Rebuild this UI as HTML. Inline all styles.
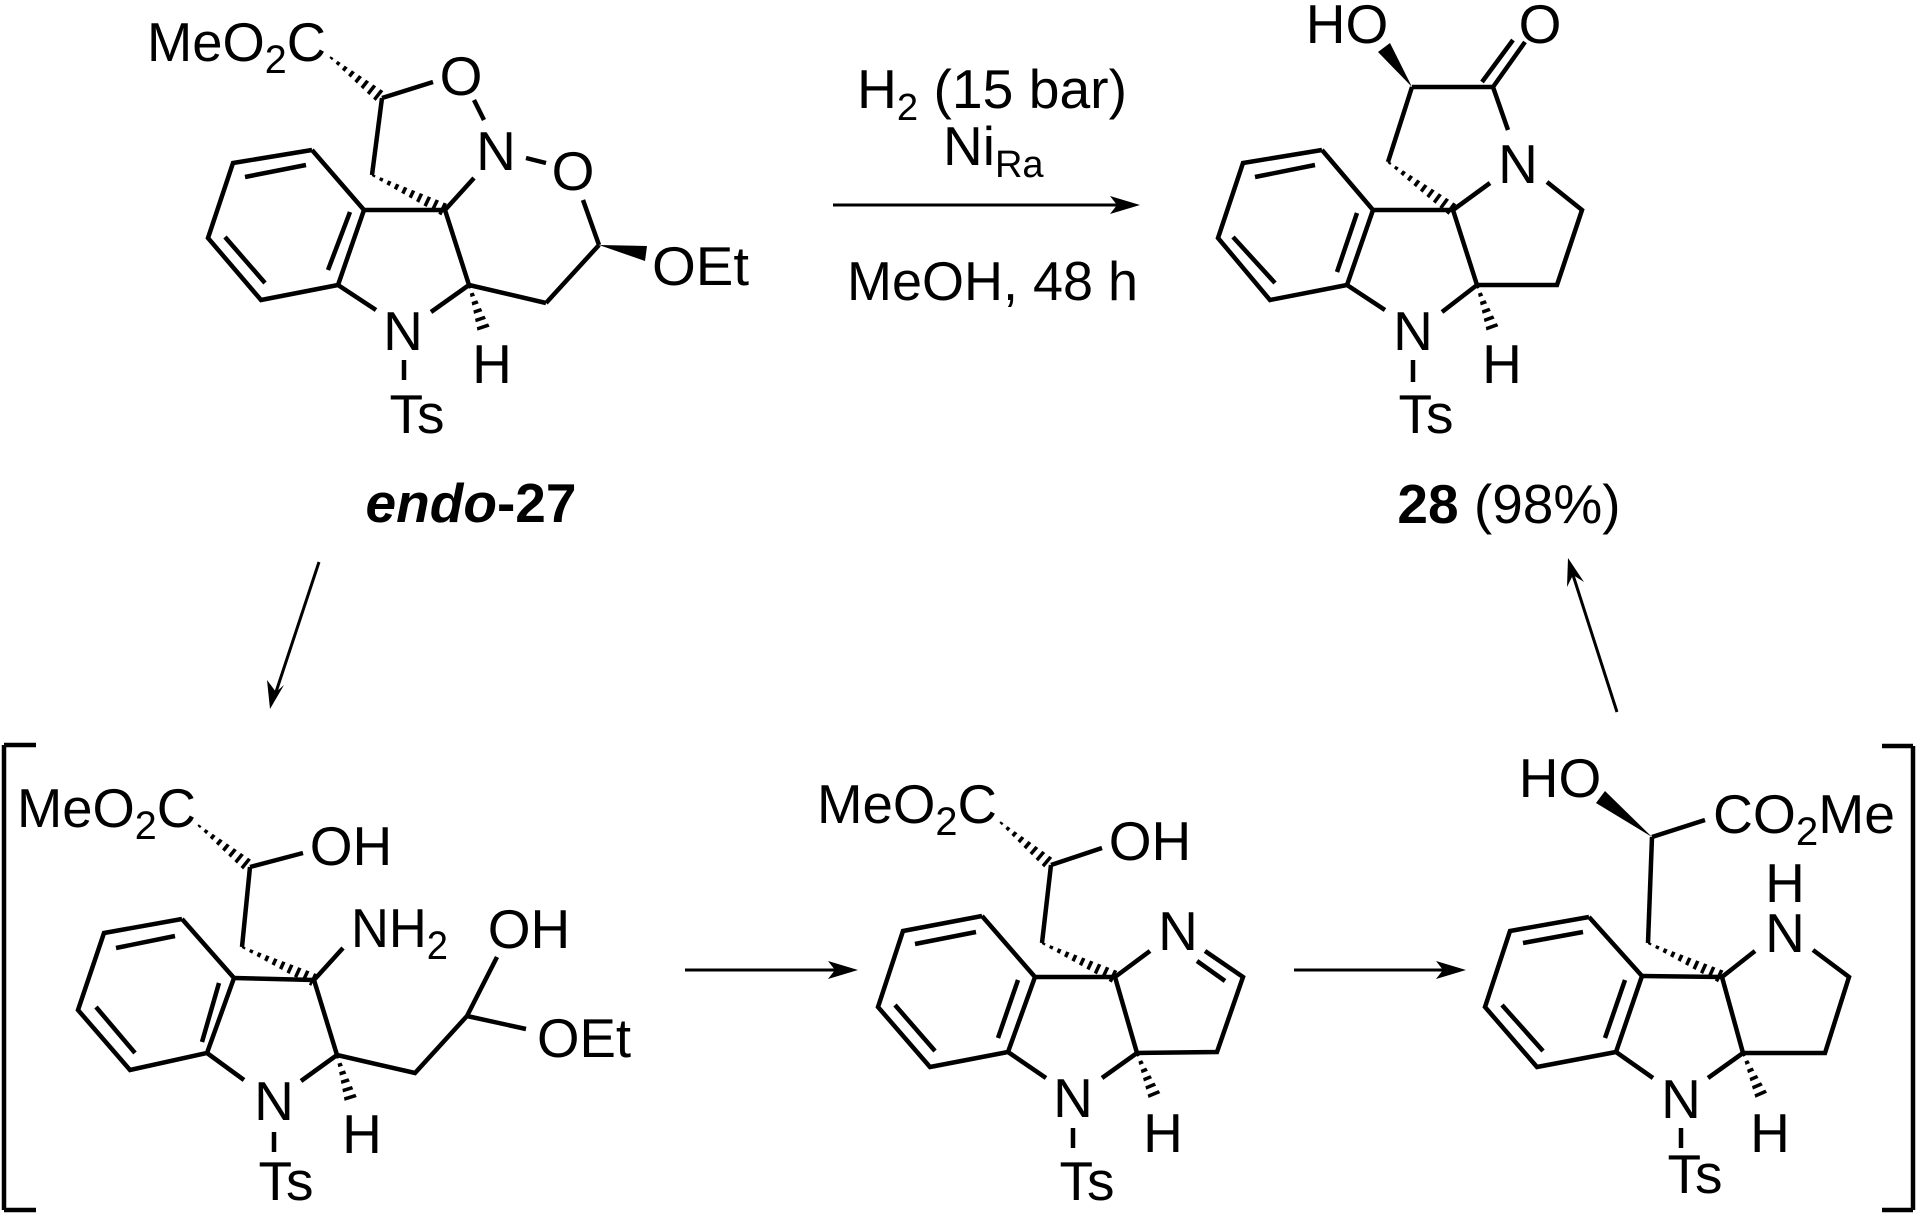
<!DOCTYPE html>
<html><head><meta charset="utf-8"><style>
html,body{margin:0;padding:0;background:#fff;}
svg{display:block;}
text{font-family:"Liberation Sans",Arial,sans-serif;font-size:55px;fill:#000;}
</style></head><body>
<svg xmlns="http://www.w3.org/2000/svg" width="1920" height="1215" viewBox="0 0 1920 1215">
<defs>
<mask id="hm" maskUnits="userSpaceOnUse" x="0" y="0" width="1920" height="1215">
<g stroke="#fff" stroke-width="20" stroke-dasharray="3.5 5" fill="none">
<line x1="330" y1="57" x2="382" y2="98"/>
<line x1="372" y1="175" x2="445" y2="210"/>
<line x1="469" y1="285" x2="484" y2="330"/>
<line x1="1388" y1="162" x2="1453" y2="210"/>
<line x1="1477" y1="285" x2="1493" y2="330"/>
<line x1="198" y1="825" x2="250" y2="867"/>
<line x1="242" y1="947" x2="314" y2="980"/>
<line x1="337" y1="1055" x2="351" y2="1100"/>
<line x1="1000" y1="822" x2="1051" y2="865"/>
<line x1="1042" y1="943" x2="1115" y2="977"/>
<line x1="1137" y1="1053" x2="1155" y2="1097"/>
<line x1="1648" y1="943" x2="1722" y2="977"/>
<line x1="1743" y1="1053" x2="1762" y2="1097"/>
</g>
</mask>
</defs>
<g stroke="#000" stroke-width="4.5" fill="none" stroke-linecap="butt" stroke-linejoin="miter">
<!-- Structure endo-27 -->
<polyline points="312,150 233,163 208,238 261,300 338,285 364,210 312,150"/>
<line x1="245" y1="177" x2="306" y2="165"/><line x1="225" y1="237" x2="265" y2="283"/><line x1="328" y1="270" x2="350" y2="212"/>
<line x1="364" y1="210" x2="445" y2="210"/>
<line x1="338" y1="285" x2="376" y2="310"/><line x1="431" y1="312" x2="469" y2="285"/>
<line x1="445" y1="210" x2="469" y2="285"/><line x1="445" y1="210" x2="474" y2="178"/>
<line x1="372" y1="175" x2="382" y2="98"/><line x1="382" y1="98" x2="433" y2="82"/>
<line x1="474" y1="100" x2="484" y2="120"/><line x1="526" y1="158" x2="546" y2="163"/>
<line x1="583" y1="200" x2="599" y2="245"/><line x1="599" y1="245" x2="546" y2="303"/><line x1="546" y1="303" x2="469" y2="285"/>
<line x1="404" y1="360" x2="404" y2="380"/>
<!-- 28 -->
<polyline points="1322,150 1243,163 1218,238 1270,300 1347,285 1373,210 1322,150"/>
<line x1="1255" y1="177" x2="1315" y2="165"/><line x1="1233" y1="237" x2="1275" y2="283"/><line x1="1337" y1="272" x2="1357" y2="213"/>
<line x1="1373" y1="210" x2="1453" y2="210"/>
<line x1="1347" y1="285" x2="1385" y2="310"/><line x1="1442" y1="312" x2="1477" y2="285"/>
<line x1="1453" y1="210" x2="1477" y2="285"/><polyline points="1477,285 1557,285 1582,210 1547,182"/>
<line x1="1453" y1="210" x2="1490" y2="183"/><line x1="1508" y1="130" x2="1493" y2="87"/>
<line x1="1493" y1="87" x2="1525" y2="42"/><line x1="1482" y1="82" x2="1513" y2="40"/>
<line x1="1493" y1="87" x2="1412" y2="87"/><line x1="1412" y1="87" x2="1388" y2="162"/>
<line x1="1413" y1="360" x2="1413" y2="382"/>
<!-- A -->
<polyline points="4,745 4,1210"/><line x1="4" y1="745" x2="36" y2="745"/><line x1="4" y1="1210" x2="36" y2="1210"/>
<polyline points="182,919 104,933 78,1010 130,1070 207,1053 234,978 182,919"/>
<line x1="116" y1="948" x2="175" y2="936"/><line x1="96" y1="1007" x2="135" y2="1053"/><line x1="202" y1="1042" x2="219" y2="983"/>
<line x1="234" y1="978" x2="314" y2="980"/>
<line x1="207" y1="1053" x2="244" y2="1080"/><line x1="301" y1="1081" x2="337" y2="1055"/>
<line x1="314" y1="980" x2="337" y2="1055"/><line x1="314" y1="980" x2="343" y2="948"/>
<line x1="242" y1="947" x2="250" y2="867"/><line x1="250" y1="867" x2="303" y2="853"/>
<polyline points="337,1055 415,1073 467,1016 497,957"/><line x1="467" y1="1016" x2="526" y2="1029"/>
<line x1="274" y1="1132" x2="274" y2="1152"/>
<!-- B -->
<polyline points="982,916 903,931 878,1007 930,1067 1008,1052 1035,977 982,916"/>
<line x1="915" y1="944" x2="976" y2="932"/><line x1="895" y1="1005" x2="935" y2="1051"/><line x1="998" y1="1038" x2="1018" y2="980"/>
<line x1="1035" y1="977" x2="1115" y2="977"/>
<line x1="1008" y1="1052" x2="1046" y2="1078"/><line x1="1102" y1="1078" x2="1137" y2="1053"/>
<line x1="1115" y1="977" x2="1137" y2="1053"/><polyline points="1137,1053 1217,1052 1243,977 1205,951"/>
<line x1="1225" y1="981" x2="1197" y2="961"/>
<line x1="1115" y1="977" x2="1150" y2="951"/>
<line x1="1042" y1="943" x2="1051" y2="865"/><line x1="1051" y1="865" x2="1102" y2="848"/>
<line x1="1073" y1="1128" x2="1073" y2="1148"/>
<!-- C -->
<polyline points="1913,746 1913,1210"/><line x1="1913" y1="746" x2="1882" y2="746"/><line x1="1913" y1="1210" x2="1882" y2="1210"/>
<polyline points="1589,917 1510,931 1485,1007 1537,1067 1616,1052 1642,976 1589,917"/>
<line x1="1523" y1="943" x2="1583" y2="932"/><line x1="1502" y1="1005" x2="1543" y2="1051"/><line x1="1605" y1="1038" x2="1625" y2="980"/>
<line x1="1642" y1="976" x2="1722" y2="977"/>
<line x1="1616" y1="1052" x2="1653" y2="1078"/><line x1="1708" y1="1078" x2="1743" y2="1053"/>
<line x1="1722" y1="977" x2="1743" y2="1053"/><polyline points="1743,1053 1825,1053 1849,977 1813,950"/>
<line x1="1722" y1="977" x2="1755" y2="951"/>
<line x1="1648" y1="943" x2="1652" y2="837"/><line x1="1652" y1="837" x2="1705" y2="820"/>
<line x1="1681" y1="1128" x2="1681" y2="1148"/>
<!-- arrows -->
<g stroke-width="3">
<line x1="833" y1="205" x2="1120" y2="205"/>
<line x1="319" y1="562" x2="276" y2="692"/>
<line x1="1617" y1="712" x2="1573" y2="575"/>
<line x1="685" y1="970" x2="835" y2="970"/>
<line x1="1294" y1="970" x2="1450" y2="970"/>
</g>
</g>
<g fill="#000">
<polygon points="1140,205 1110,196 1117,205 1110,214"/>
<polygon points="270,709 267,680 276,692 284,685"/>
<polygon points="1568,558 1584,582 1573,575 1567,587"/>
<polygon points="858,970 828,961 835,970 828,979"/>
<polygon points="1466,970 1436,961 1443,970 1436,979"/>
<polygon points="599,245 647,246 645,261"/>
<polygon points="1412,87 1378,52 1390,43"/>
<polygon points="1652,837 1596,803 1605,791"/>
</g>
<g fill="#000" mask="url(#hm)">
<polygon points="329.4,57.8 330.6,56.2 386,92.9 378,103.1"/>
<polygon points="371.6,175.9 372.4,174.1 447.8,204.1 442.2,215.9"/>
<polygon points="468.1,285.3 469.9,284.7 490.2,327.9 477.8,332.1"/>
<polygon points="1387.4,162.8 1388.6,161.2 1456.9,204.8 1449.1,215.2"/>
<polygon points="1476.1,285.3 1477.9,284.7 1499.1,327.8 1486.9,332.2"/>
<polygon points="197.4,825.8 198.6,824.2 254.1,861.9 245.9,872.1"/>
<polygon points="241.6,947.9 242.4,946.1 316.7,974.1 311.3,985.9"/>
<polygon points="336,1055.3 338,1054.7 357.2,1098.1 344.8,1101.9"/>
<polygon points="999.4,822.8 1000.6,821.2 1055.2,860 1046.8,870"/>
<polygon points="1041.6,943.9 1042.4,942.1 1117.7,971.1 1112.3,982.9"/>
<polygon points="1136.1,1053.4 1137.9,1052.6 1161,1094.5 1149,1099.5"/>
<polygon points="1647.6,943.9 1648.4,942.1 1724.7,971.1 1719.3,982.9"/>
<polygon points="1742.1,1053.4 1743.9,1052.6 1768,1094.4 1756,1099.6"/>
</g>
<g>
<text x="147" y="61" textLength="179" lengthAdjust="spacingAndGlyphs">MeO<tspan font-size="40" dy="12">2</tspan><tspan dy="-12">C</tspan></text>
<text x="461" y="95" text-anchor="middle">O</text>
<text x="496" y="170" text-anchor="middle">N</text>
<text x="573" y="190" text-anchor="middle">O</text>
<text x="652" y="285" textLength="97" lengthAdjust="spacingAndGlyphs">OEt</text>
<text x="403" y="350" text-anchor="middle">N</text>
<text x="492" y="383" text-anchor="middle">H</text>
<text x="417" y="433" text-anchor="middle">Ts</text>
<text x="471" y="522" text-anchor="middle" font-weight="bold" font-size="50"><tspan font-style="italic">endo</tspan>-27</text>

<text x="1347" y="43" text-anchor="middle">HO</text>
<text x="1540" y="43" text-anchor="middle">O</text>
<text x="1518" y="183" text-anchor="middle">N</text>
<text x="1413" y="350" text-anchor="middle">N</text>
<text x="1502" y="383" text-anchor="middle">H</text>
<text x="1426" y="433" text-anchor="middle">Ts</text>
<text x="1509" y="523" text-anchor="middle" font-size="50"><tspan font-weight="bold">28</tspan> (98%)</text>

<text x="857" y="108" textLength="270" lengthAdjust="spacingAndGlyphs">H<tspan font-size="38" dy="12">2</tspan><tspan dy="-12"> (15 bar)</tspan></text>
<text x="943" y="165">Ni<tspan font-size="38" dy="12">Ra</tspan></text>
<text x="847" y="300" textLength="291" lengthAdjust="spacingAndGlyphs">MeOH, 48 h</text>

<text x="17" y="827" textLength="179" lengthAdjust="spacingAndGlyphs">MeO<tspan font-size="40" dy="12">2</tspan><tspan dy="-12">C</tspan></text>
<text x="351" y="865" text-anchor="middle">OH</text>
<text x="351" y="947" textLength="97" lengthAdjust="spacingAndGlyphs">NH<tspan font-size="40" dy="12">2</tspan></text>
<text x="529" y="948" text-anchor="middle">OH</text>
<text x="537" y="1057" textLength="94" lengthAdjust="spacingAndGlyphs">OEt</text>
<text x="274" y="1120" text-anchor="middle">N</text>
<text x="362" y="1153" text-anchor="middle">H</text>
<text x="286" y="1200" text-anchor="middle">Ts</text>

<text x="817" y="823" textLength="180" lengthAdjust="spacingAndGlyphs">MeO<tspan font-size="40" dy="12">2</tspan><tspan dy="-12">C</tspan></text>
<text x="1150" y="860" text-anchor="middle">OH</text>
<text x="1178" y="950" text-anchor="middle">N</text>
<text x="1073" y="1117" text-anchor="middle">N</text>
<text x="1163" y="1152" text-anchor="middle">H</text>
<text x="1087" y="1200" text-anchor="middle">Ts</text>

<text x="1560" y="797" text-anchor="middle">HO</text>
<text x="1713" y="833" textLength="182" lengthAdjust="spacingAndGlyphs">CO<tspan font-size="40" dy="12">2</tspan><tspan dy="-12">Me</tspan></text>
<text x="1785" y="902" text-anchor="middle">H</text>
<text x="1785" y="952" text-anchor="middle">N</text>
<text x="1681" y="1118" text-anchor="middle">N</text>
<text x="1770" y="1152" text-anchor="middle">H</text>
<text x="1695" y="1193" text-anchor="middle">Ts</text>
</g>
</svg>
</body></html>
